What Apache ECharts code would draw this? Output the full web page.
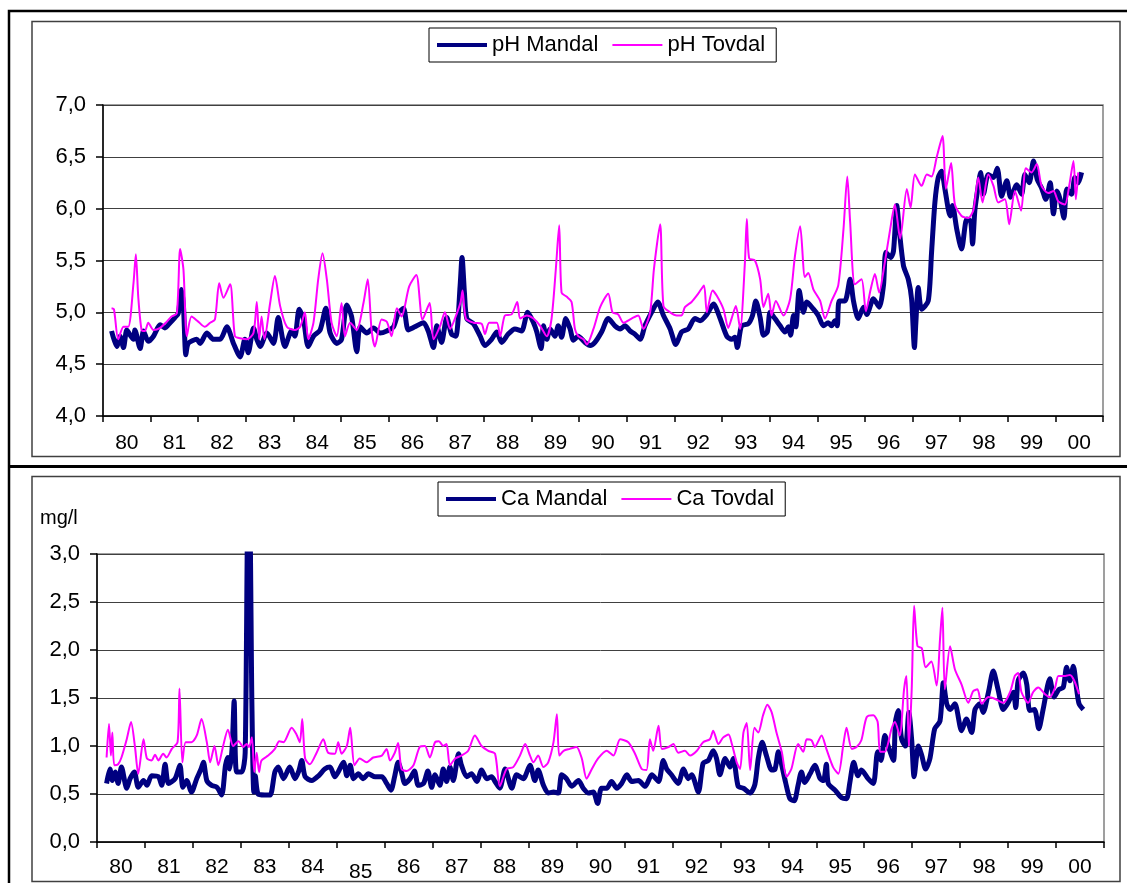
<!DOCTYPE html>
<html>
<head>
<meta charset="utf-8">
<title>pH og Ca, Mandal og Tovdal</title>
<script src="https://cdn.jsdelivr.net/npm/echarts@6/dist/echarts.min.js"></script>
<style>
  html, body { margin: 0; padding: 0; background: #fff; }
  #chart { width: 1127px; height: 883px; }
</style>
</head>
<body>
<div id="chart"></div>
<script>
// years on the x axis (one category per year, 1980..2000)
const yearLabels = ['80','81','82','83','84','85','86','87','88','89','90','91','92','93','94','95','96','97','98','99','00'];
const phTicks = [4.0, 4.5, 5.0, 5.5, 6.0, 6.5, 7.0];
const caTicks = [0.0, 0.5, 1.0, 1.5, 2.0, 2.5, 3.0];

// [years since start of 1980, value]
const phMandal = [
  [0.18,4.82],[0.29,4.67],[0.36,4.77],[0.43,4.66],[0.5,4.83],[0.57,4.78],[0.64,4.74],[0.67,4.83],[0.78,4.65],[0.85,4.82],
  [0.95,4.72],[1.06,4.77],[1.2,4.88],[1.3,4.85],[1.41,4.9],[1.51,4.95],[1.58,4.99],[1.65,5.22],[1.69,5.06],[1.74,4.59],
  [1.79,4.7],[1.97,4.74],[2.04,4.7],[2.18,4.8],[2.32,4.74],[2.46,4.74],[2.6,4.86],[2.74,4.7],[2.88,4.57],[2.98,4.74],
  [3.05,4.61],[3.16,4.85],[3.23,4.74],[3.3,4.67],[3.44,4.8],[3.58,4.7],[3.68,4.95],[3.82,4.67],[3.96,4.82],[4.03,4.77],
  [4.12,5.03],[4.21,4.93],[4.31,4.67],[4.42,4.77],[4.56,4.83],[4.68,5.04],[4.77,4.8],[4.91,4.7],[5.01,4.74],[5.12,5.07],
  [5.22,4.96],[5.33,4.62],[5.4,4.86],[5.54,4.8],[5.68,4.85],[5.82,4.8],[5.96,4.82],[6.1,4.86],[6.2,4.99],[6.31,5.04],
  [6.41,4.83],[6.55,4.86],[6.73,4.9],[6.83,4.82],[6.94,4.66],[7.01,4.87],[7.11,4.71],[7.22,4.95],[7.32,4.79],[7.41,4.77],
  [7.5,5.26],[7.54,5.53],[7.59,5.19],[7.64,4.94],[7.78,4.89],[7.92,4.77],[8.02,4.68],[8.16,4.74],[8.27,4.81],[8.37,4.71],
  [8.51,4.79],[8.65,4.84],[8.79,4.82],[8.92,5.0],[9.04,4.9],[9.11,4.81],[9.2,4.65],[9.25,4.87],[9.32,4.74],[9.39,4.84],
  [9.49,4.77],[9.56,4.87],[9.63,4.76],[9.72,4.94],[9.81,4.84],[9.88,4.73],[9.98,4.77],[10.12,4.71],[10.23,4.68],[10.33,4.71],
  [10.47,4.81],[10.61,4.94],[10.75,4.87],[10.86,4.84],[10.96,4.87],[11.07,4.82],[11.17,4.79],[11.28,4.74],[11.38,4.87],[11.52,5.0],
  [11.65,5.1],[11.77,4.97],[11.91,4.84],[12.03,4.69],[12.15,4.81],[12.29,4.84],[12.43,4.94],[12.54,4.92],[12.68,4.98],[12.82,5.08],
  [12.96,4.94],[13.1,4.77],[13.2,4.74],[13.27,4.76],[13.32,4.66],[13.41,4.87],[13.55,4.89],[13.64,4.97],[13.71,5.11],[13.8,4.95],
  [13.87,4.78],[13.95,4.81],[14.01,5.0],[14.11,4.94],[14.22,4.87],[14.32,4.81],[14.39,4.86],[14.44,4.78],[14.5,4.97],[14.55,4.86],
  [14.62,5.21],[14.71,5.0],[14.78,5.1],[14.92,5.03],[15.02,4.97],[15.13,4.87],[15.23,4.9],[15.3,4.87],[15.37,4.92],[15.42,4.87],
  [15.46,5.11],[15.58,5.11],[15.69,5.32],[15.76,5.11],[15.86,4.94],[15.97,5.05],[16.04,4.98],[16.18,5.13],[16.3,5.05],[16.39,5.26],
  [16.44,5.58],[16.54,5.53],[16.6,5.59],[16.67,6.03],[16.72,5.8],[16.81,5.45],[16.91,5.32],[16.98,5.13],[17.04,4.66],[17.07,4.9],
  [17.12,5.24],[17.19,5.03],[17.33,5.11],[17.4,5.58],[17.47,6.06],[17.54,6.3],[17.61,6.36],[17.68,6.19],[17.79,5.93],[17.84,6.03],
  [17.93,5.8],[18.03,5.61],[18.14,5.9],[18.22,5.88],[18.26,5.66],[18.31,5.99],[18.38,6.22],[18.43,6.35],[18.49,6.14],[18.59,6.33],
  [18.7,6.3],[18.78,6.39],[18.87,6.12],[18.98,6.27],[19.06,6.11],[19.19,6.23],[19.29,6.14],[19.36,6.33],[19.45,6.25],[19.54,6.46],
  [19.62,6.28],[19.71,6.2],[19.8,6.09],[19.89,6.25],[19.96,5.95],[20.03,6.17],[20.1,6.09],[20.18,5.91],[20.24,6.19],[20.34,6.14],
  [20.41,6.3],[20.48,6.25],[20.55,6.35]
];

const phTovdal = [
  [0.18,5.04],[0.23,5.03],[0.32,4.74],[0.43,4.86],[0.53,4.86],[0.64,5.28],[0.69,5.56],[0.74,5.15],[0.81,4.83],[0.88,4.82],
  [0.95,4.9],[1.06,4.83],[1.2,4.85],[1.34,4.91],[1.44,4.96],[1.55,4.99],[1.62,5.61],[1.69,5.41],[1.76,4.77],[1.86,4.96],
  [2.0,4.91],[2.14,4.86],[2.25,4.9],[2.35,4.93],[2.44,5.28],[2.53,5.14],[2.67,5.27],[2.77,4.77],[2.88,4.75],[3.02,4.74],
  [3.16,4.8],[3.23,5.1],[3.28,4.74],[3.33,4.96],[3.39,4.74],[3.51,5.09],[3.61,5.35],[3.72,5.06],[3.86,4.86],[4.03,4.83],
  [4.14,4.86],[4.24,5.0],[4.31,4.74],[4.42,4.9],[4.52,5.32],[4.61,5.57],[4.7,5.32],[4.8,4.9],[4.91,4.77],[5.01,5.09],
  [5.08,4.77],[5.19,4.9],[5.33,4.83],[5.47,5.09],[5.56,5.32],[5.64,4.83],[5.71,4.67],[5.85,4.93],[5.96,4.91],[6.06,4.77],
  [6.17,5.04],[6.27,4.96],[6.43,5.25],[6.58,5.36],[6.71,4.93],[6.86,5.09],[6.94,4.74],[7.08,4.87],[7.18,5.0],[7.29,4.84],
  [7.39,4.94],[7.51,5.1],[7.55,5.21],[7.62,4.94],[7.78,4.9],[7.95,4.89],[8.02,4.79],[8.11,4.9],[8.27,4.9],[8.34,4.77],
  [8.44,4.97],[8.58,4.98],[8.7,5.1],[8.76,4.94],[8.9,4.97],[9.04,4.94],[9.18,4.87],[9.32,4.77],[9.42,4.94],[9.51,5.42],
  [9.58,5.84],[9.63,5.19],[9.74,5.15],[9.84,5.1],[9.91,4.84],[9.98,4.77],[10.09,4.74],[10.16,4.69],[10.3,4.84],[10.44,5.05],
  [10.61,5.18],[10.7,5.0],[10.82,4.98],[10.93,4.9],[11.1,4.94],[11.24,4.97],[11.35,4.84],[11.49,5.0],[11.57,5.42],[11.7,5.85],
  [11.77,5.06],[11.91,5.0],[12.05,4.97],[12.15,4.97],[12.22,5.05],[12.36,5.1],[12.5,5.18],[12.62,5.26],[12.68,5.0],[12.8,5.21],
  [12.89,5.16],[13.03,5.03],[13.13,4.85],[13.2,4.94],[13.29,5.06],[13.38,4.84],[13.48,5.48],[13.52,5.9],[13.57,5.52],[13.69,5.5],
  [13.8,5.32],[13.87,5.05],[13.97,5.18],[14.04,4.97],[14.13,5.11],[14.29,4.97],[14.43,5.13],[14.53,5.54],[14.64,5.83],[14.74,5.34],
  [14.81,5.38],[14.92,5.22],[15.06,5.11],[15.16,4.94],[15.3,5.11],[15.44,5.26],[15.55,5.8],[15.63,6.31],[15.69,5.87],[15.79,5.27],
  [15.93,5.32],[16.02,5.01],[16.12,5.22],[16.21,5.37],[16.3,5.19],[16.39,5.4],[16.53,5.8],[16.63,6.04],[16.74,5.71],[16.88,6.19],
  [16.96,6.01],[17.05,6.33],[17.19,6.22],[17.3,6.33],[17.4,6.31],[17.51,6.5],[17.63,6.7],[17.7,6.19],[17.81,6.44],[17.89,6.04],
  [18.03,5.93],[18.17,5.91],[18.28,5.99],[18.38,6.3],[18.47,6.06],[18.59,6.33],[18.7,6.22],[18.8,6.06],[18.94,6.09],[19.03,5.85],
  [19.15,6.17],[19.28,5.98],[19.38,6.39],[19.5,6.35],[19.61,6.43],[19.71,6.22],[19.85,6.15],[19.96,6.17],[20.06,6.07],[20.2,6.04],
  [20.29,6.22],[20.38,6.46],[20.43,6.09],[20.48,6.35]
];

const caMandal = [
  [0.2,0.61],[0.27,0.76],[0.32,0.64],[0.38,0.73],[0.44,0.61],[0.51,0.78],[0.62,0.56],[0.69,0.66],[0.78,0.73],[0.86,0.57],
  [0.97,0.64],[1.04,0.59],[1.14,0.69],[1.28,0.68],[1.35,0.59],[1.42,0.81],[1.49,0.61],[1.63,0.66],[1.73,0.8],[1.79,0.57],
  [1.87,0.64],[1.97,0.52],[2.08,0.66],[2.17,0.76],[2.22,0.83],[2.29,0.64],[2.39,0.59],[2.5,0.57],[2.6,0.49],[2.68,0.8],
  [2.73,0.88],[2.77,0.76],[2.82,1.0],[2.86,1.47],[2.91,0.73],[3.02,0.73],[3.09,0.93],[3.15,3.5],[3.18,3.5],[3.23,1.45],
  [3.27,0.52],[3.3,0.69],[3.36,0.5],[3.5,0.49],[3.61,0.49],[3.71,0.73],[3.78,0.78],[3.89,0.66],[4.02,0.78],[4.13,0.66],
  [4.21,0.74],[4.27,0.85],[4.34,0.68],[4.48,0.64],[4.62,0.69],[4.75,0.76],[4.86,0.78],[4.96,0.68],[5.03,0.73],[5.14,0.83],
  [5.21,0.69],[5.28,0.8],[5.35,0.66],[5.45,0.71],[5.55,0.66],[5.66,0.71],[5.8,0.68],[5.94,0.68],[6.04,0.61],[6.13,0.54],
  [6.21,0.69],[6.28,0.83],[6.35,0.73],[6.42,0.61],[6.53,0.66],[6.62,0.74],[6.7,0.59],[6.81,0.61],[6.9,0.74],[6.98,0.57],
  [7.05,0.7],[7.15,0.59],[7.22,0.76],[7.29,0.63],[7.36,0.78],[7.43,0.64],[7.54,0.92],[7.6,0.8],[7.71,0.68],[7.81,0.71],
  [7.92,0.63],[8.02,0.75],[8.13,0.66],[8.23,0.68],[8.3,0.63],[8.4,0.56],[8.51,0.76],[8.65,0.56],[8.75,0.7],[8.89,0.66],
  [9.03,0.8],[9.13,0.64],[9.2,0.75],[9.31,0.59],[9.41,0.51],[9.52,0.52],[9.62,0.51],[9.69,0.7],[9.79,0.66],[9.9,0.58],
  [10.04,0.64],[10.14,0.56],[10.25,0.51],[10.35,0.52],[10.44,0.4],[10.52,0.56],[10.63,0.56],[10.73,0.63],[10.84,0.56],[10.94,0.61],
  [11.05,0.7],[11.15,0.63],[11.29,0.64],[11.43,0.58],[11.57,0.7],[11.71,0.63],[11.81,0.85],[11.88,0.76],[11.98,0.7],[12.12,0.61],
  [12.23,0.76],[12.33,0.66],[12.4,0.7],[12.54,0.52],[12.64,0.82],[12.75,0.85],[12.85,0.95],[12.92,0.87],[12.99,0.7],[13.1,0.87],
  [13.2,0.78],[13.27,0.87],[13.37,0.58],[13.48,0.56],[13.62,0.51],[13.72,0.6],[13.79,0.87],[13.87,1.04],[13.96,0.9],[14.07,0.75],
  [14.14,0.76],[14.21,0.94],[14.28,0.8],[14.36,0.62],[14.45,0.45],[14.54,0.43],[14.62,0.59],[14.69,0.73],[14.76,0.62],[14.87,0.71],
  [14.97,0.8],[15.08,0.66],[15.15,0.64],[15.21,0.81],[15.25,0.61],[15.39,0.54],[15.53,0.46],[15.63,0.45],[15.7,0.62],[15.78,0.83],
  [15.87,0.69],[15.94,0.75],[16.08,0.66],[16.19,0.61],[16.28,0.94],[16.35,0.85],[16.43,1.11],[16.5,1.0],[16.61,0.85],[16.65,1.25],
  [16.71,1.37],[16.78,1.07],[16.86,1.0],[16.93,1.35],[16.99,1.06],[17.04,0.68],[17.13,1.0],[17.2,0.9],[17.28,0.76],[17.37,0.87],
  [17.47,1.18],[17.58,1.26],[17.65,1.66],[17.72,1.44],[17.79,1.38],[17.89,1.44],[18.03,1.16],[18.13,1.28],[18.24,1.14],[18.31,1.38],
  [18.41,1.44],[18.48,1.35],[18.59,1.56],[18.69,1.78],[18.79,1.59],[18.9,1.38],[19.0,1.45],[19.11,1.56],[19.16,1.4],[19.21,1.68],
  [19.32,1.76],[19.39,1.64],[19.45,1.37],[19.55,1.38],[19.64,1.18],[19.73,1.38],[19.87,1.7],[19.96,1.51],[20.06,1.59],[20.15,1.61],
  [20.22,1.82],[20.29,1.68],[20.36,1.83],[20.43,1.59],[20.48,1.44],[20.57,1.38]
];

const caTovdal = [
  [0.2,0.88],[0.25,1.23],[0.29,0.9],[0.32,1.14],[0.36,0.8],[0.44,0.81],[0.51,0.88],[0.62,1.07],[0.71,1.25],[0.79,1.0],
  [0.86,0.71],[0.97,1.07],[1.04,0.87],[1.14,0.85],[1.21,0.91],[1.28,0.85],[1.38,0.92],[1.45,0.88],[1.56,0.97],[1.68,1.04],
  [1.72,1.6],[1.78,0.83],[1.85,1.04],[1.97,1.04],[2.08,1.11],[2.18,1.28],[2.29,1.04],[2.36,0.83],[2.45,1.0],[2.53,0.8],
  [2.63,1.0],[2.73,1.17],[2.84,1.0],[2.95,1.05],[3.05,0.99],[3.12,1.02],[3.17,0.99],[3.23,1.09],[3.28,0.73],[3.33,0.93],
  [3.38,0.73],[3.43,0.85],[3.57,0.9],[3.71,0.97],[3.8,1.05],[3.89,1.04],[4.06,1.19],[4.16,1.12],[4.23,1.04],[4.28,1.28],
  [4.34,0.87],[4.44,0.81],[4.58,0.93],[4.72,1.07],[4.82,0.93],[4.96,0.92],[5.03,1.04],[5.1,0.92],[5.21,1.0],[5.28,1.19],
  [5.37,0.8],[5.48,0.87],[5.62,0.83],[5.76,0.88],[5.94,0.9],[6.04,0.97],[6.11,0.85],[6.21,0.93],[6.28,1.03],[6.35,0.76],
  [6.46,0.74],[6.6,0.8],[6.73,0.99],[6.84,1.0],[6.94,0.88],[7.05,1.04],[7.13,1.05],[7.22,1.0],[7.29,1.02],[7.36,0.8],
  [7.47,0.87],[7.6,0.9],[7.74,0.95],[7.88,1.11],[8.02,1.0],[8.16,0.95],[8.3,0.92],[8.4,0.58],[8.54,0.76],[8.68,0.78],
  [8.82,0.9],[8.93,1.02],[9.03,0.9],[9.1,0.83],[9.2,0.9],[9.31,0.78],[9.41,0.83],[9.52,1.04],[9.59,1.33],[9.64,0.9],
  [9.73,0.95],[9.86,0.97],[10.0,0.99],[10.11,0.87],[10.21,0.66],[10.32,0.76],[10.45,0.87],[10.63,0.95],[10.77,0.9],[10.91,1.07],
  [11.08,1.04],[11.22,0.92],[11.36,0.76],[11.46,0.75],[11.53,1.07],[11.6,0.95],[11.71,1.21],[11.78,0.97],[11.92,0.99],[12.02,1.02],
  [12.12,0.93],[12.26,0.95],[12.37,0.9],[12.51,0.95],[12.64,1.04],[12.78,1.07],[12.85,1.16],[12.96,1.02],[13.06,1.09],[13.17,1.12],
  [13.24,1.02],[13.34,0.83],[13.41,0.76],[13.48,1.14],[13.55,1.24],[13.62,0.75],[13.71,1.19],[13.79,1.14],[13.89,1.32],[13.98,1.43],
  [14.07,1.35],[14.17,1.14],[14.28,0.94],[14.38,0.68],[14.48,0.76],[14.62,1.02],[14.73,0.94],[14.8,1.07],[14.9,1.06],[14.97,0.99],
  [15.11,1.11],[15.21,0.97],[15.35,0.78],[15.46,0.71],[15.56,1.0],[15.63,1.19],[15.74,0.97],[15.84,0.99],[15.94,1.06],[16.05,1.3],
  [16.19,1.32],[16.28,1.25],[16.33,0.94],[16.43,0.94],[16.57,1.18],[16.64,1.25],[16.74,1.11],[16.83,1.59],[16.88,1.73],[16.93,1.0],
  [16.99,1.59],[17.04,2.46],[17.11,2.04],[17.2,2.02],[17.28,1.82],[17.4,1.88],[17.51,1.63],[17.58,2.11],[17.63,2.44],[17.68,1.59],
  [17.79,2.04],[17.89,1.8],[18.03,1.64],[18.17,1.45],[18.27,1.57],[18.36,1.59],[18.45,1.44],[18.59,1.51],[18.73,1.49],[18.9,1.45],
  [19.04,1.56],[19.14,1.73],[19.21,1.76],[19.28,1.56],[19.42,1.45],[19.52,1.56],[19.63,1.61],[19.77,1.54],[19.87,1.51],[19.98,1.61],
  [20.05,1.73],[20.19,1.73],[20.29,1.74],[20.38,1.68],[20.48,1.54]
];

const FONT = "'Liberation Sans', Arial, sans-serif";
const NAVY = '#000080';
const MAGENTA = '#ff00ff';

const chart = echarts.init(document.getElementById('chart'), null, { renderer: 'canvas' });

function comma(v) {
  return v.toFixed(1).replace('.', ',');
}

function yearAxis(grid, margin) {
  return {
    gridIndex: grid,
    type: 'category',
    data: yearLabels,
    boundaryGap: true,
    axisLine: { lineStyle: { color: '#000', width: 1.5 } },
    axisTick: { show: true, interval: 0, length: 6, lineStyle: { color: '#000', width: 1.5 } },
    axisLabel: {
      interval: 0, margin: margin, color: '#000', fontSize: 21, fontFamily: FONT,
      formatter: function (v) { return grid === 1 && v === '85' ? '{low|' + v + '}' : v; },
      rich: { low: { fontSize: 21, fontFamily: FONT, color: '#000', padding: [5, 0, 0, 0] } }
    },
    splitLine: { show: false }
  };
}

function timeAxis(grid) {
  return { gridIndex: grid, type: 'value', min: 0, max: 21, show: false };
}

function valueAxis(grid, ticks) {
  return {
    gridIndex: grid,
    type: 'value',
    min: ticks[0],
    max: ticks[ticks.length - 1],
    interval: 0.5,
    axisLine: { show: true, lineStyle: { color: '#000', width: 1.5 } },
    axisTick: { show: true, length: 7, lineStyle: { color: '#000', width: 1.5 } },
    axisLabel: { margin: 17, color: '#000', fontSize: 22, fontFamily: FONT, formatter: comma },
    splitLine: { show: true, lineStyle: { color: '#404040', width: 1 } }
  };
}

// legend entries: thick navy line and thin magenta line, no symbol
function legendBox(left, top, names) {
  return {
    left: left, top: top,
    orient: 'horizontal',
    data: [
      { name: names[0], lineStyle: { width: 4 } },
      { name: names[1], lineStyle: { width: 2 } }
    ],
    itemWidth: 50, itemHeight: 20, itemGap: 13,
    itemStyle: { opacity: 0 },
    padding: [6, 11, 6, 6],
    borderColor: '#000', borderWidth: 1,
    backgroundColor: '#fff',
    textStyle: { color: '#000', fontSize: 22, fontFamily: FONT, padding: [0, 0, 0, 0] }
  };
}

function lineSeries(name, data, xi, yi, color, width) {
  return {
    name: name, type: 'line', data: data,
    xAxisIndex: xi, yAxisIndex: yi,
    symbol: 'none', smooth: 0.25, clip: true,
    lineStyle: { color: color, width: width },
    itemStyle: { color: color }
  };
}

const option = {
  animation: false,
  backgroundColor: '#fff',
  graphic: [
    { type: 'rect', silent: true, shape: { x: 9, y: 11, width: 1130, height: 890 }, style: { fill: 'none', stroke: '#000', lineWidth: 2.5 } },
    { type: 'line', silent: true, shape: { x1: 9, y1: 466.5, x2: 1127, y2: 466.5 }, style: { stroke: '#000', lineWidth: 3 } },
    { type: 'rect', silent: true, shape: { x: 32, y: 21.5, width: 1088, height: 435 }, style: { fill: 'none', stroke: '#404040', lineWidth: 1.5 } },
    { type: 'rect', silent: true, shape: { x: 32, y: 476.5, width: 1088, height: 405 }, style: { fill: 'none', stroke: '#404040', lineWidth: 1.5 } },
    { type: 'text', silent: true, left: 40, top: 508, style: { text: 'mg/l', fontSize: 20, fontFamily: FONT, fill: '#000' } }
  ],
  legend: [
    legendBox(429, 28, ['pH Mandal', 'pH Tovdal']),
    legendBox(438, 482, ['Ca Mandal', 'Ca Tovdal'])
  ],
  grid: [
    { left: 103, top: 105, width: 1000, height: 311, show: true, borderColor: '#808080', borderWidth: 1.5, backgroundColor: 'transparent' },
    { left: 97, top: 554, width: 1007, height: 289, show: true, borderColor: '#808080', borderWidth: 1.5, backgroundColor: 'transparent' }
  ],
  xAxis: [yearAxis(0, 17), timeAxis(0), yearAxis(1, 15), timeAxis(1)],
  yAxis: [valueAxis(0, phTicks), valueAxis(1, caTicks)],
  series: [
    lineSeries('pH Mandal', phMandal, 1, 0, NAVY, 5),
    lineSeries('pH Tovdal', phTovdal, 1, 0, MAGENTA, 2),
    lineSeries('Ca Mandal', caMandal, 3, 1, NAVY, 5),
    lineSeries('Ca Tovdal', caTovdal, 3, 1, MAGENTA, 2)
  ]
};

chart.setOption(option);
window.addEventListener('resize', () => chart.resize(), false);
</script>
</body>
</html>
